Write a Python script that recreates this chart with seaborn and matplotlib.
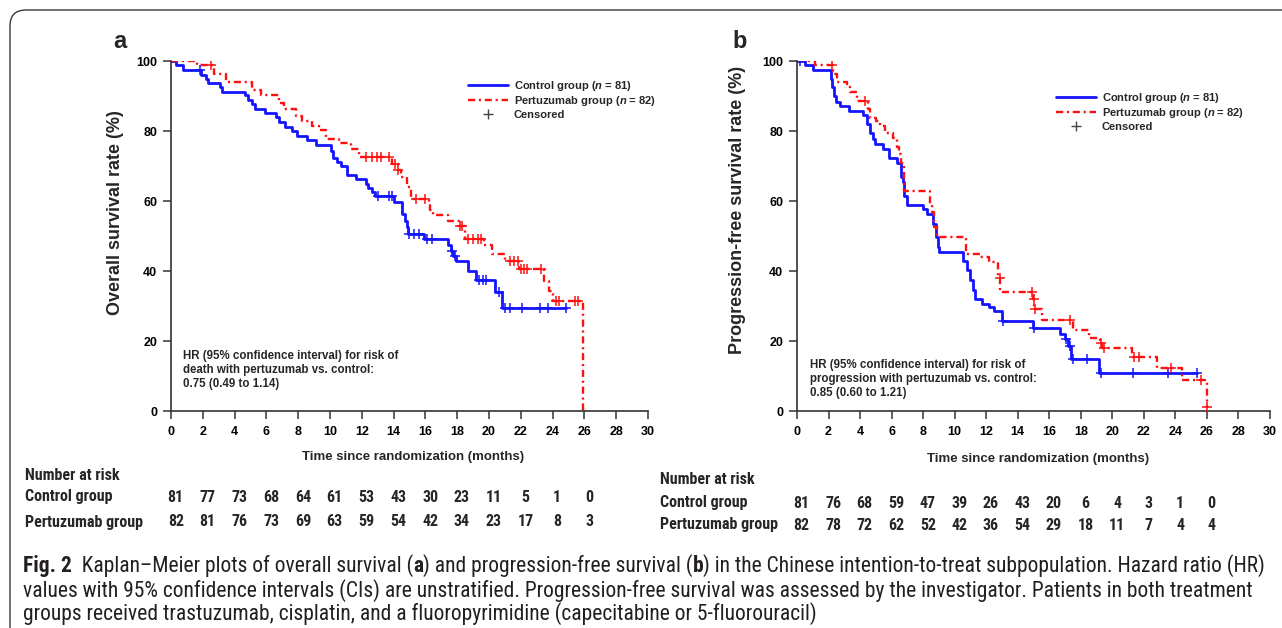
import os
import numpy as np
import pandas as pd
import matplotlib
matplotlib.use("Agg")
import matplotlib.pyplot as plt
import seaborn as sns
from matplotlib.lines import Line2D
from matplotlib.patches import FancyBboxPatch
from matplotlib import transforms, font_manager

# ---------------- data ----------------
months_ticks = list(range(0, 31, 2))
surv_ticks = list(range(0, 101, 20))
risk_times = list(range(0, 27, 2))

os_ctrl_t = [0, 0.3, 0.76, 1.9, 2.2, 2.35, 3.08, 3.23, 4.65, 4.86, 5.08, 5.28, 5.91, 6.58, 6.79, 7.17, 7.63, 7.94,
             8.57, 9.14, 10.05, 10.2, 10.46, 10.67, 11.09, 11.62, 12.25, 12.4, 12.66, 12.83, 14.0, 14.5, 14.7, 14.83,
             14.9, 15.9, 17.4, 17.6, 17.75, 17.9, 18.7, 19.2, 20.4, 20.8, 24.85]
os_ctrl_s = [100, 98.8, 97.4, 96.0, 95.0, 93.6, 92.5, 91.2, 90.3, 89.0, 87.7, 86.2, 85.2, 84.0, 82.6, 81.2, 80.0, 78.6,
             77.4, 76.1, 74.3, 72.4, 71.1, 69.9, 67.3, 66.4, 65.0, 63.8, 62.5, 61.3, 59.7, 56.4, 54.4, 52.5,
             50.6, 49.2, 47.5, 45.8, 44.4, 43.0, 40.1, 37.4, 33.9, 29.4, 29.4]
os_ctrl_cens = [1.8, 13.0, 13.7, 13.9, 14.95, 15.3, 15.6, 16.1, 16.4, 17.7, 17.85, 19.4, 19.6, 19.8, 20.6, 21.0,
                21.3, 22.1, 23.2, 23.7, 24.85]

os_pert_t = [0, 1.66, 2.71, 3.44, 5.11, 5.64, 6.79, 7.1, 7.84, 8.26, 8.89, 9.3, 9.72, 10.56, 11.3, 11.8, 13.93, 14.25,
             14.45, 14.87, 15.08, 16.2, 16.3, 16.5, 17.4, 18.1, 18.5, 19.7, 20.2, 21.0, 21.9, 23.45, 23.8, 24.0, 25.9]
os_pert_s = [100, 98.8, 96.3, 93.9, 91.7, 90.3, 87.9, 86.4, 84.2, 82.9, 81.4, 80.2, 77.8, 76.6, 75.0, 72.7, 70.7, 68.8,
             66.8, 64.0, 60.7, 59.2, 57.3, 55.9, 54.4, 53.0, 49.2, 47.3, 44.9, 43.0, 40.6, 37.2, 34.4, 31.5, 0]
os_pert_cens = [2.5, 12.25, 12.66, 12.98, 13.19, 13.7, 14.1, 14.3, 15.4, 16.0, 18.15, 18.3, 18.7, 19.0, 19.3, 19.5,
                21.3, 21.6, 21.85, 22.0, 22.2, 22.4, 23.3, 24.2, 24.4, 25.4, 25.6]

pfs_ctrl_t = [0, 0.5, 1.0, 2.14, 2.25, 2.35, 2.45, 2.73, 3.32, 4.17, 4.46, 4.63, 4.8, 4.92, 5.44, 5.86, 6.32, 6.58,
              6.7, 6.81, 7.0, 7.97, 8.23, 8.65, 8.82, 8.97, 9.03, 10.55, 10.76, 10.97, 11.15, 11.29, 11.72, 12.2,
              12.5, 12.99, 14.99, 16.69, 17.0, 17.2, 17.37, 19.18, 25.4]
pfs_ctrl_s = [100, 98.8, 97.5, 95.0, 92.5, 90.0, 88.3, 87.2, 85.8, 84.5, 81.9, 79.5, 77.6, 76.4, 75.0, 72.4, 70.9, 66.8,
              65.4, 61.3, 59.0, 57.8, 56.4, 53.5, 49.7, 46.8, 45.4, 43.0, 40.3, 37.4, 34.6, 32.0, 30.7, 29.6,
              28.5, 25.8, 23.7, 22.1, 20.5, 18.6, 14.8, 11.0, 11.0]
pfs_ctrl_cens = [0.2, 13.05, 15.0, 17.05, 17.3, 17.5, 18.4, 19.25, 21.3, 23.5, 25.4]

pfs_pert_t = [0, 1.14, 2.3, 2.52, 3.15, 3.36, 3.79, 4.52, 4.65, 5.01, 5.27, 5.58, 6.11, 6.32, 6.5, 6.6, 6.77, 8.44,
              8.55, 8.69, 8.86, 10.75, 11.6, 12.2, 12.77, 12.9, 14.95, 15.05, 15.53, 17.53, 18.55, 19.23, 19.35,
              21.24, 22.82, 24.41, 26.0]
pfs_pert_s = [100, 98.8, 96.3, 93.9, 92.6, 91.2, 88.6, 86.2, 83.6, 82.9, 81.4, 79.5, 78.1, 75.4, 73.5, 70.8, 63.0, 59.2,
              56.8, 52.5, 49.7, 44.9, 43.9, 42.5, 38.0, 33.9, 32.0, 29.1, 26.0, 23.1, 21.0, 19.3, 18.0,
              15.5, 12.4, 8.8, 1.2]
pfs_pert_cens = [2.2, 4.3, 12.85, 14.9, 15.0, 15.1, 17.3, 19.3, 19.5, 21.4, 21.7, 23.7, 25.6, 26.0]

os_risk_ctrl = [81, 77, 73, 68, 64, 61, 53, 43, 30, 23, 11, 5, 1, 0]
os_risk_pert = [82, 81, 76, 73, 69, 63, 59, 54, 42, 34, 23, 17, 8, 3]
pfs_risk_ctrl = [81, 76, 68, 59, 47, 39, 26, 43, 20, 6, 4, 3, 1, 0]
pfs_risk_pert = [82, 78, 72, 62, 52, 42, 36, 54, 29, 18, 11, 7, 4, 4]

group_labels = ["Control group", "Pertuzumab group"]
n_labels = [81, 82]

# ---------------- style ----------------
sns.set_theme(style="white")
plt.rcParams['font.family'] = ['Liberation Sans', 'DejaVu Sans']
plt.rcParams['mathtext.fontset'] = 'custom'
plt.rcParams['mathtext.it'] = 'Liberation Sans:italic:bold'
plt.rcParams['mathtext.rm'] = 'Liberation Sans:bold'
plt.rcParams['mathtext.bf'] = 'Liberation Sans:bold'


def find_condensed():
    for name in ['Liberation Sans Narrow', 'Roboto Condensed', 'Open Sans Condensed', 'DejaVu Sans Condensed']:
        try:
            font_manager.findfont(font_manager.FontProperties(family=name), fallback_to_default=False)
            return [name, 'Liberation Sans']
        except Exception:
            pass
    for fam in ['Liberation Sans', 'DejaVu Sans', 'Roboto', 'Noto Sans']:
        try:
            path = font_manager.findfont(font_manager.FontProperties(family=fam, stretch='condensed'),
                                         fallback_to_default=False)
            base = os.path.basename(path).lower()
            if 'condensed' in base or 'narrow' in base:
                return None, path
        except Exception:
            pass
    return None


COND = find_condensed()

BLUE = '#1414ff'
RED = '#ff1010'
DASH = (0, (3.0, 1.6, 0.9, 1.6))

W, H = 1282, 628
fig = plt.figure(figsize=(W / 100, H / 100), dpi=100)
fig.patch.set_facecolor('white')


def fx(px):
    return px / W


def fy(py):
    return 1 - py / H


def cond_props(size, weight='normal'):
    if COND is None:
        return dict(family=['Liberation Sans'], fontsize=size, fontweight=weight), False
    if COND[0] is None:
        return dict(fontproperties=font_manager.FontProperties(fname=COND[1], size=size, weight=weight)), True
    return dict(family=COND, fontsize=size, fontweight=weight), True


# rounded border frame
frame = FancyBboxPatch((10, -60), 1330, 628 - 10 + 60, boxstyle="round,pad=0,rounding_size=16",
                       transform=transforms.IdentityTransform(), fill=False, edgecolor='#3a3a3a', lw=1.0)
fig.add_artist(frame)

axA = fig.add_axes([fx(171), fy(411), fx(648) - fx(171), fy(61) - fy(411)])
axB = fig.add_axes([fx(797), fy(411), fx(1270) - fx(797), fy(61) - fy(411)])


def step_value(times, surv, c):
    idx = np.searchsorted(np.asarray(times), c, side='right') - 1
    return np.asarray(surv)[idx]


def draw_panel(ax, ct, cs, ccens, pt, ps, pcens):
    sns.lineplot(x=ct, y=cs, ax=ax, color=BLUE, lw=2.0, drawstyle='steps-post', estimator=None, sort=False)
    sns.lineplot(x=pt, y=ps, ax=ax, color=RED, lw=1.7, drawstyle='steps-post', estimator=None, sort=False,
                 linestyle=DASH)
    sns.scatterplot(x=ccens, y=step_value(ct, cs, ccens), ax=ax, marker='+', s=45, color=BLUE, linewidth=1.1,
                    zorder=5)
    sns.scatterplot(x=pcens, y=step_value(pt, ps, pcens), ax=ax, marker='+', s=45, color=RED, linewidth=1.1,
                    zorder=5)
    ax.set_xlim(0, 30)
    ax.set_ylim(0, 100)
    ax.set_xticks(months_ticks)
    ax.set_yticks(surv_ticks)
    sns.despine(ax=ax)
    for sp in ('left', 'bottom'):
        ax.spines[sp].set_color('#333333')
        ax.spines[sp].set_linewidth(1.2)
    ax.tick_params(axis='both', direction='out', length=6, width=1.1, color='#333333', labelsize=9,
                   labelcolor='black', bottom=True, left=True)
    ax.tick_params(axis='x', pad=5)
    ax.tick_params(axis='y', pad=4)
    for lbl in ax.get_xticklabels() + ax.get_yticklabels():
        lbl.set_fontweight('bold')
    ax.set_facecolor('none')


draw_panel(axA, os_ctrl_t, os_ctrl_s, os_ctrl_cens, os_pert_t, os_pert_s, os_pert_cens)
draw_panel(axB, pfs_ctrl_t, pfs_ctrl_s, pfs_ctrl_cens, pfs_pert_t, pfs_pert_s, pfs_pert_cens)

# axis labels
axA.set_ylabel("Overall survival rate (%)", fontsize=13, fontweight='bold')
axB.set_ylabel("Progression-free survival rate (%)", fontsize=13, fontweight='bold')
for ax in (axA, axB):
    ax.set_xlabel("Time since randomization (months)", fontsize=9.5, fontweight='bold')
axA.yaxis.set_label_coords(-0.117, 0.566)
axB.yaxis.set_label_coords(-0.125, 0.574)
axA.xaxis.set_label_coords(0.507, -0.131)
axB.xaxis.set_label_coords(0.51, -0.137)
for ax in (axA, axB):
    ax.yaxis.label.set_va('center')
    ax.xaxis.label.set_va('center')


# legends
def legend_handles():
    return [Line2D([], [], color=BLUE, lw=2.0),
            Line2D([], [], color=RED, lw=1.7, linestyle=DASH),
            Line2D([], [], color='#444444', marker='+', ls='none', markersize=7, markeredgewidth=1.0)]


leg_labels = [f"{group_labels[0]} ($n$ = {n_labels[0]})",
              f"{group_labels[1]} ($n$ = {n_labels[1]})",
              "Censored"]
for ax, lx, ly in ((axA, 468, 79), (axB, 1056, 91)):
    ax.legend(legend_handles(), leg_labels, loc='upper left', bbox_to_anchor=(fx(lx), fy(ly)),
              bbox_transform=fig.transFigure, frameon=False, borderpad=0, borderaxespad=0,
              handlelength=3.6, handletextpad=0.5, labelspacing=0.12,
              prop={'weight': 'bold', 'size': 8})

# HR text
fig.text(fx(183), fy(350), "HR (95% confidence interval) for risk of\ndeath with pertuzumab vs. control:\n0.75 (0.49 to 1.14)",
         fontsize=8.3, fontweight='bold', va='top', ha='left', linespacing=1.2)
fig.text(fx(810), fy(359), "HR (95% confidence interval) for risk of\nprogression with pertuzumab vs. control:\n0.85 (0.60 to 1.21)",
         fontsize=8.3, fontweight='bold', va='top', ha='left', linespacing=1.2)

# panel letters
fig.text(fx(120), fy(41), "a", fontsize=17, fontweight='bold', ha='center', va='center')
fig.text(fx(740), fy(41), "b", fontsize=17, fontweight='bold', ha='center', va='center')

# risk tables
tprops, is_cond = cond_props(11.5 if COND else 10, 'bold')


def risk_table(ax, x0, y_head, y1, y2, ctrl, pert):
    fig.text(fx(x0), fy(y_head), "Number at risk", ha='left', va='center', **tprops)
    fig.text(fx(x0), fy(y1), group_labels[0], ha='left', va='center', **tprops)
    fig.text(fx(x0), fy(y2), group_labels[1], ha='left', va='center', **tprops)
    tr = transforms.blended_transform_factory(ax.transData, fig.transFigure)
    for t, a, b in zip(risk_times, ctrl, pert):
        ax.text(t + 0.3, fy(y1), str(a), transform=tr, ha='center', va='center', clip_on=False, **tprops)
        ax.text(t + 0.3, fy(y2), str(b), transform=tr, ha='center', va='center', clip_on=False, **tprops)


risk_table(axA, 25, 476, 497, 522, os_risk_ctrl, os_risk_pert)
risk_table(axB, 660, 480, 503, 525, pfs_risk_ctrl, pfs_risk_pert)

# caption
renderer = fig.canvas.get_renderer()
cap1 = [("Fig. 2", 'bold'), ("  Kaplan–Meier plots of overall survival (", 'normal'), ("a", 'bold'),
        (") and progression-free survival (", 'normal'), ("b", 'bold'),
        (") in the Chinese intention-to-treat subpopulation. Hazard ratio (HR)", 'normal')]
cap2 = [("values with 95% confidence intervals (CIs) are unstratified. Progression-free survival was assessed by the investigator. Patients in both treatment", 'normal')]
cap3 = [("groups received trastuzumab, cisplatin, and a fluoropyrimidine (capecitabine or 5-fluorouracil)", 'normal')]


def draw_segments(segs, x0, y, size, draw=True):
    x = x0
    made = []
    for s, w in segs:
        p, _ = cond_props(size, w)
        t = fig.text(fx(x), fy(y), s, va='center', ha='left', color='#231f20', **p)
        bb = t.get_window_extent(renderer=renderer)
        x += bb.width
        made.append(t)
    if not draw:
        for t in made:
            t.remove()
    return x - x0


# fit the caption font size so the first line spans the reference width
w1 = draw_segments(cap1, 23, 566, 11, draw=False)
csize = 11 * (1266 - 23) / w1

draw_segments(cap1, 23, 566, csize)
draw_segments(cap2, 23, 591, csize)
draw_segments(cap3, 23, 614, csize)

fig.savefig("out.png", dpi=100, facecolor='white')
